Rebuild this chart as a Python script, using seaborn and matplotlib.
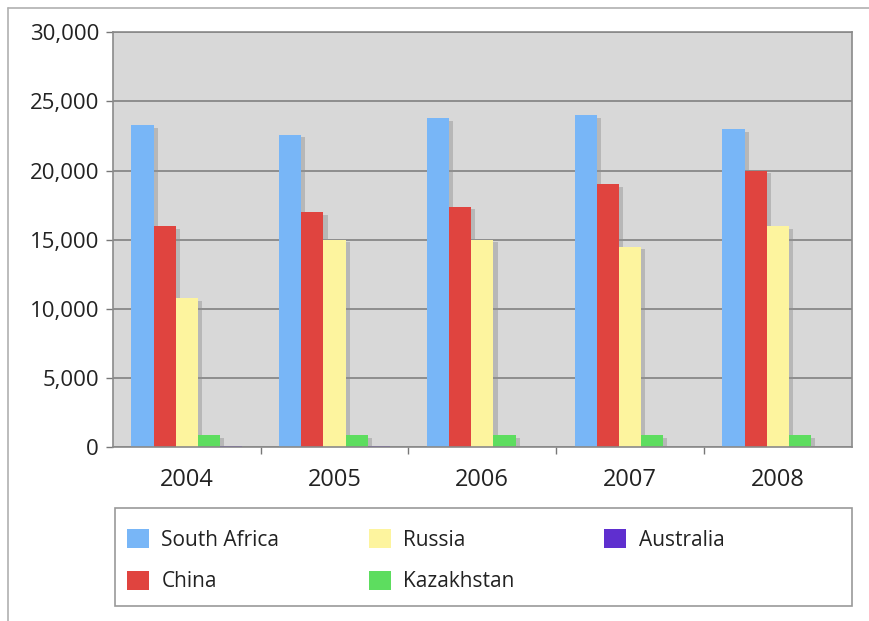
import pandas as pd
import matplotlib.pyplot as plt
import matplotlib.patheffects as pe
from matplotlib.lines import Line2D
from matplotlib.patches import Rectangle
from matplotlib.ticker import StrMethodFormatter, FixedLocator
import seaborn as sns

years = ["2004", "2005", "2006", "2007", "2008"]
countries = ["South Africa", "China", "Russia", "Kazakhstan", "Australia"]
south_africa = [23300, 22600, 23800, 24000, 23000]
china = [16000, 17000, 17400, 19000, 20000]
russia = [10800, 15000, 15000, 14500, 16000]
kazakhstan = [850, 850, 850, 850, 850]
australia = [90, 70, 0, 0, 0]
colors = ["#78b6f7", "#e0443f", "#fdf49e", "#5ddd5f", "#5f2fcf"]

rows = []
for name, vals in zip(countries, [south_africa, china, russia, kazakhstan, australia]):
    for y, v in zip(years, vals):
        rows.append({"year": y, "country": name, "value": v})
df = pd.DataFrame(rows)

sns.set_style("white")
plt.rcParams["font.family"] = ["Open Sans", "DejaVu Sans"]

fig = plt.figure(figsize=(8.69, 6.21), dpi=100)
ax = fig.add_axes([0.130, 0.280, 0.850, 0.668])
ax.set_facecolor("#d8d8d8")

sns.barplot(data=df, x="year", y="value", hue="country", hue_order=countries,
            palette=colors, width=0.75, saturation=1, ax=ax, linewidth=0)

handles, labels = ax.get_legend_handles_labels()
ax.get_legend().remove()

# light shadow to the right of each bar
for p in ax.patches:
    p.set_path_effects([pe.SimplePatchShadow(offset=(3, -2), shadow_rgbFace="#909090", alpha=0.45),
                        pe.Normal()])

ax.set_ylim(0, 30000)
ax.set_xlim(-0.5, 4.5)
ax.set_yticks(range(0, 30001, 5000))
ax.yaxis.set_major_formatter(StrMethodFormatter("{x:,.0f}"))
ax.yaxis.grid(True, color="#7a7a7a", linewidth=1.1)
ax.set_axisbelow(True)
ax.set_xlabel("")
ax.set_ylabel("")

ax.xaxis.set_minor_locator(FixedLocator([0.5, 1.5, 2.5, 3.5]))
ax.tick_params(axis="x", which="major", length=0, labelsize=17, labelcolor="#222222", pad=15)
ax.tick_params(axis="x", which="minor", length=5, color="#777777", width=1, bottom=True)
ax.tick_params(axis="y", length=5, color="#777777", width=1, labelsize=16,
               labelcolor="#222222", pad=5, left=True)

for s in ax.spines.values():
    s.set_color("#8a8a8a")
    s.set_linewidth(1.2)

# legend box spanning the plot width
fig.add_artist(Rectangle((0.1323, 0.0242), 0.848, 0.158, transform=fig.transFigure,
                         fill=False, edgecolor="#999999", linewidth=1.2))
leg = fig.legend(handles, labels, loc="upper left", ncol=3,
                 bbox_to_anchor=(127 / 869, 1 - 529 / 621), borderaxespad=0, borderpad=0,
                 fontsize=15, handlelength=1.05, handleheight=1.05, handletextpad=0.6,
                 labelspacing=0.95, columnspacing=4.3, frameon=False)
for h in leg.legend_handles:
    h.set_path_effects([])
for t in leg.get_texts():
    t.set_color("#222222")

# outer frame lines (top and left)
fig.add_artist(Line2D([0.009, 1.0], [0.987, 0.987], color="#b0b0b0", linewidth=1.2))
fig.add_artist(Line2D([0.009, 0.009], [0.0, 0.987], color="#b0b0b0", linewidth=1.2))

fig.savefig("out.png", dpi=100)
